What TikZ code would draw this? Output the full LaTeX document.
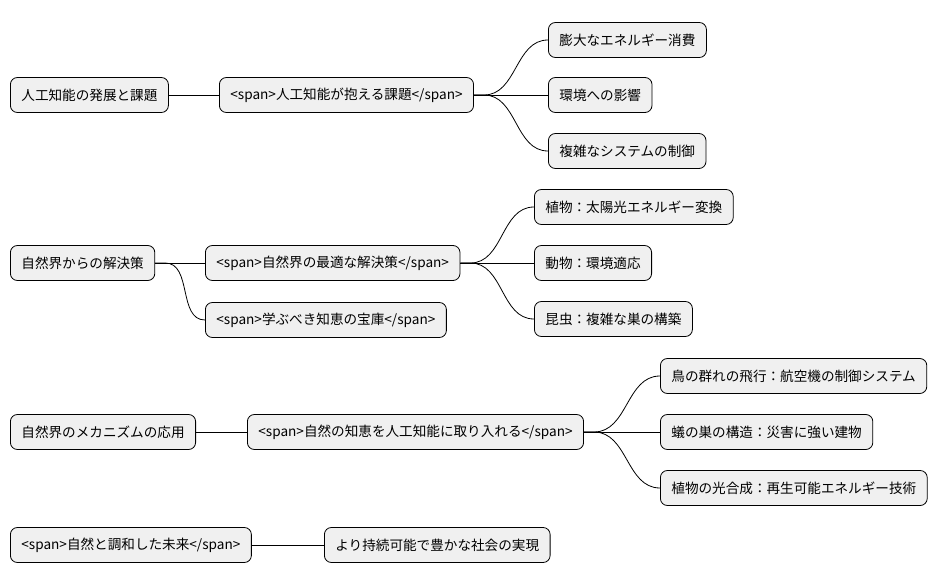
\documentclass[tikz,border=0pt]{standalone}
\usepackage{fontspec}
\setmainfont{Noto Sans CJK JP}
\begin{document}
\begin{tikzpicture}[x=1bp,y=-1bp,
  box/.style={draw, anchor=west, rounded corners=7bp, fill=black!6, line width=0.8bp, minimum height=35bp, inner xsep=11bp, font=\fontsize{13.6bp}{15bp}\selectfont},
  link/.style={line width=0.8bp}]
\useasboundingbox (0,0) rectangle (943,583);
\node[box] (t1) at (10,95){人工知能の発展と課題};
\node[box] (t1a) at (219,95){<span>人工知能が抱える課題</span>};
\node[box] (t1a1) at (548,40){膨大なエネルギー消費};
\node[box] (t1a2) at (548,95){環境への影響};
\node[box] (t1a3) at (548,151){複雑なシステムの制御};
\draw[link] (t1) -- (t1a);
\draw[link] (t1a.east) -- ++(10,0) to[out=0,in=180] (t1a1.west);
\draw[link] (t1a.east) -- (t1a2.west);
\draw[link] (t1a.east) -- ++(10,0) to[out=0,in=180] (t1a3.west);
\node[box] (t2) at (10,263){自然界からの解決策};
\node[box] (t2a) at (205,263){<span>自然界の最適な解決策</span>};
\node[box] (t2b) at (205,320){<span>学ぶべき知恵の宝庫</span>};
\node[box] (t2a1) at (534,207){植物：太陽光エネルギー変換};
\node[box] (t2a2) at (534,263){動物：環境適応};
\node[box] (t2a3) at (534,319){昆虫：複雑な巣の構築};
\draw[link] (t2.east) -- (t2a.west);
\draw[link] (t2.east) -- ++(10,0) to[out=0,in=180] (t2b.west);
\draw[link] (t2a.east) -- ++(10,0) to[out=0,in=180] (t2a1.west);
\draw[link] (t2a.east) -- (t2a2.west);
\draw[link] (t2a.east) -- ++(10,0) to[out=0,in=180] (t2a3.west);
\node[box] (t3) at (10,432){自然界のメカニズムの応用};
\node[box] (t3a) at (247,432){<span>自然の知恵を人工知能に取り入れる</span>};
\node[box] (t3a1) at (660,376){鳥の群れの飛行：航空機の制御システム};
\node[box] (t3a2) at (660,432){蟻の巣の構造：災害に強い建物};
\node[box] (t3a3) at (660,488){植物の光合成：再生可能エネルギー技術};
\draw[link] (t3) -- (t3a);
\draw[link] (t3a.east) -- ++(10,0) to[out=0,in=180] (t3a1.west);
\draw[link] (t3a.east) -- (t3a2.west);
\draw[link] (t3a.east) -- ++(10,0) to[out=0,in=180] (t3a3.west);
\node[box] (t4) at (10,545){<span>自然と調和した未来</span>};
\node[box] (t4a) at (324,545){より持続可能で豊かな社会の実現};
\draw[link] (t4) -- (t4a);
\end{tikzpicture}
\end{document}
